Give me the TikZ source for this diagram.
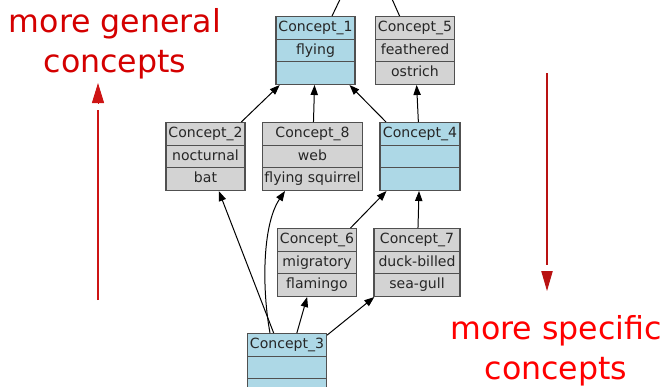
\documentclass[tikz,border=0pt]{standalone}
\usepackage{fontspec}
\setmainfont{DejaVu Sans}
\usetikzlibrary{arrows.meta, shapes.multipart}
\definecolor{conceptblue}{RGB}{173,216,230}
\definecolor{conceptgray}{RGB}{211,211,211}
\definecolor{boxline}{RGB}{80,80,80}
\definecolor{generalred}{RGB}{212,0,0}
\definecolor{specificred}{RGB}{255,0,0}
\definecolor{arrowred}{RGB}{205,20,20}

% one strut per row, so that every row has the same height
\newcommand{\rowstrut}{\rule[-2.9pt]{0pt}{12.1pt}}
\newcommand{\conceptrows}[3]{\rowstrut#1\nodepart{two}\rowstrut#2\nodepart{three}\rowstrut#3}

\tikzset{
  concept/.style={rectangle split, rectangle split parts=3, draw=boxline, line width=1pt,
    font=\fontsize{12}{14}\selectfont, text=black!85, inner xsep=2pt, inner ysep=3.1pt,
    anchor=north},
  blueconcept/.style={concept, fill=conceptblue},
  grayconcept/.style={concept, fill=conceptgray},
  hint/.style={anchor=north, align=center, inner sep=0pt, font=\fontsize{27}{34}\selectfont},
}

\begin{document}
\begin{tikzpicture}[x=0.03cm, y=-0.03cm, >={Triangle[length=0.3cm,width=0.22cm]}, line width=0.85pt]
  \useasboundingbox (0,0) rectangle (667,386);
  \clip (0,0) rectangle (667,386);

% define the concepts of the lattice
  \node[blueconcept, minimum width=2.37cm] (c1) at (315.5,16) {\conceptrows{Concept\_1}{flying}{}};
  \node[grayconcept, minimum width=2.25cm] (c5) at (415,16) {\conceptrows{Concept\_5}{feathered}{ostrich}};
  \node[grayconcept, minimum width=2.37cm] (c2) at (205.5,122) {\conceptrows{Concept\_2}{nocturnal}{bat}};
  \node[grayconcept, minimum width=3.0cm] (c8) at (312.5,122) {\conceptrows{Concept\_8}{web}{flying squirrel}};
  \node[blueconcept, minimum width=2.4cm] (c4) at (420,122) {\conceptrows{Concept\_4}{}{}};
  \node[grayconcept, minimum width=2.37cm] (c6) at (317,228) {\conceptrows{Concept\_6}{migratory}{flamingo}};
  \node[grayconcept, minimum width=2.58cm] (c7) at (417,228) {\conceptrows{Concept\_7}{duck-billed}{sea-gull}};
  \node[blueconcept, minimum width=2.37cm] (c3) at (287,333) {\conceptrows{Concept\_3}{}{}};
  \coordinate (c0) at (367,-57);

% define the links
  \path[->] (c2) edge (c1)
            (c8) edge (c1)
            (c4) edge (c1)
                 edge (c5)
            (c6) edge (c4)
            (c7) edge (c4)
            (c3) edge (c2)
                 edge (c6)
                 edge (c7)
            (c1) edge (c0)
            (c5) edge (c0);
  \draw[->] ([xshift=-0.51cm]c3.north) .. controls (262,290) and (262,225) .. ([xshift=-0.825cm]c8.south);

% the two hints
  \node[hint, text=generalred] (general) at (115,8) {more general\\concepts};
  \node[hint, text=specificred] (specific) at (556,315) {more specific\\concepts};
  \coordinate (gtail) at (98,300);
  \coordinate (gtip) at (98,83);
  \coordinate (stail) at (547,73);
  \coordinate (stip) at (547,291);
  \draw[arrowred, line width=2pt] (gtail) -- ([yshift=-0.81cm]gtip);
  \draw[arrowred, -{Triangle[length=0.6cm,width=0.36cm]}] ([yshift=-0.6cm]gtip) -- (gtip);
  \draw[arrowred!90!black, line width=1.5pt] (stail) -- ([yshift=0.78cm]stip);
  \draw[arrowred!90!black, -{Triangle[length=0.6cm,width=0.34cm]}] ([yshift=0.6cm]stip) -- (stip);
\end{tikzpicture}
\end{document}
